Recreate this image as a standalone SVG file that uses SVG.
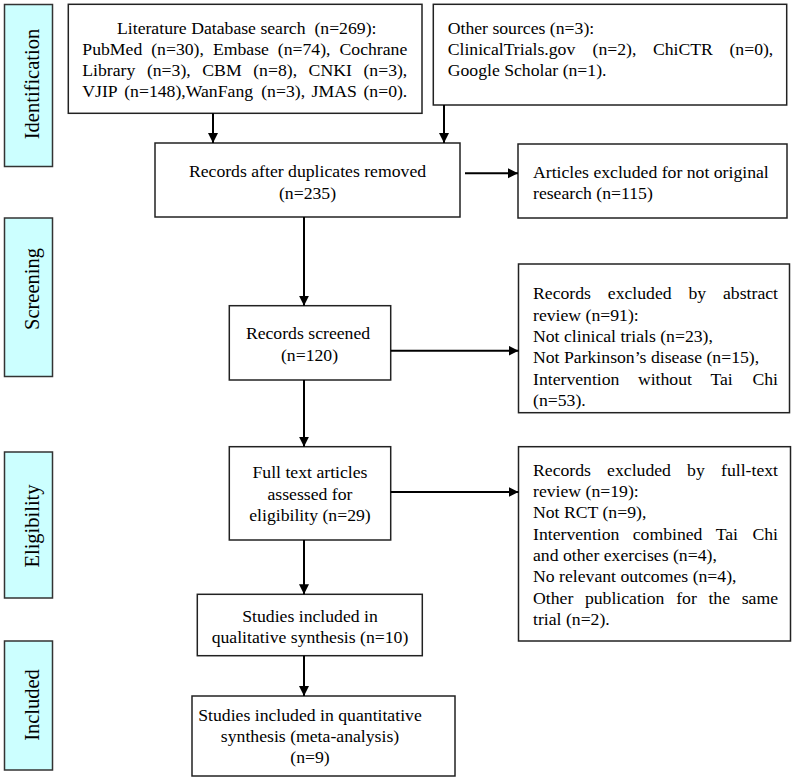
<svg xmlns="http://www.w3.org/2000/svg" width="797" height="781" viewBox="0 0 797 781">
<style>
text { font-family: "Liberation Serif", "Times New Roman", serif; font-size: 17.7px; fill: #000; }
.box { fill: #fff; stroke: #222; stroke-width: 1.5; }
.side { fill: #CCFFFF; stroke: #333; stroke-width: 1.5; }
.side-t { font-size: 20.5px; text-anchor: middle; }
.c { text-anchor: middle; }
.e { text-anchor: end; }
.conn { stroke: #000; stroke-width: 2; fill: none; marker-end: url(#ah); }
</style>
<defs>
<marker id="ah" markerUnits="userSpaceOnUse" markerWidth="11" markerHeight="11" refX="10" refY="5" orient="auto">
<path d="M0,0 L10,5 L0,10 z" fill="#000"/>
</marker>
</defs>
<rect width="797" height="781" fill="#fff"/>

<g id="stage-identification">
<rect class="side" x="4.5" y="4.5" width="48" height="162"/>
<text class="side-t" transform="translate(39,84) rotate(-90)">Identification</text>
</g>
<g id="stage-screening">
<rect class="side" x="4.5" y="218" width="48" height="158.5"/>
<text class="side-t" transform="translate(39,289) rotate(-90)">Screening</text>
</g>
<g id="stage-eligibility">
<rect class="side" x="4.5" y="452" width="48" height="146"/>
<text class="side-t" transform="translate(39,526) rotate(-90)">Eligibility</text>
</g>
<g id="stage-included">
<rect class="side" x="4.5" y="641" width="48" height="129"/>
<text class="side-t" transform="translate(39,705) rotate(-90)">Included</text>
</g>

<g id="database-search">
<rect class="box" x="68.3" y="4.3" width="353.7" height="109"/>
<text x="117" y="33.5" xml:space="preserve">Literature Database search  (n=269):</text>
<text y="54.8"><tspan x="82.3">PubMed</tspan><tspan x="151.2">(n=30),</tspan><tspan x="212.9">Embase</tspan><tspan x="277.8">(n=74),</tspan><tspan x="407.3" class="e">Cochrane</tspan></text>
<text y="76.1"><tspan x="82.3">Library</tspan><tspan x="146.9">(n=3),</tspan><tspan x="202.3">CBM</tspan><tspan x="253.2">(n=8),</tspan><tspan x="308.6">CNKI</tspan><tspan x="407.3" class="e">(n=3),</tspan></text>
<text y="97.4"><tspan x="82.3">VJIP</tspan><tspan x="124.2">(n=148),WanFang</tspan><tspan x="261.2">(n=3),</tspan><tspan x="311.6">JMAS</tspan><tspan x="407.3" class="e">(n=0).</tspan></text>
</g>

<g id="other-sources">
<rect class="box" x="433.3" y="4.3" width="353.4" height="100.7"/>
<text x="447.7" y="33.5">Other sources (n=3):</text>
<text y="54.8"><tspan x="447.7">ClinicalTrials.gov</tspan><tspan x="592.5">(n=2),</tspan><tspan x="652.9">ChiCTR</tspan><tspan x="773.3" class="e">(n=0),</tspan></text>
<text x="447.7" y="76.1">Google Scholar (n=1).</text>
</g>

<g id="duplicates-removed">
<rect class="box" x="155" y="143" width="305" height="74"/>
<text class="c" x="307.5" y="177.3">Records after duplicates removed</text>
<text class="c" x="307.5" y="198.6">(n=235)</text>
</g>

<g id="excluded-not-original">
<rect class="box" x="518" y="144" width="269" height="74"/>
<text x="533" y="177.8">Articles excluded for not original</text>
<text x="533" y="199.1">research (n=115)</text>
</g>

<g id="records-screened">
<rect class="box" x="229.3" y="305.7" width="161.4" height="74.3"/>
<text class="c" x="308" y="339.3">Records screened</text>
<text class="c" x="309.5" y="360.7">(n=120)</text>
</g>

<g id="excluded-abstract">
<rect class="box" x="518.5" y="264" width="271" height="148.7"/>
<text y="299.3"><tspan x="533">Records</tspan><tspan x="607.8">excluded</tspan><tspan x="688.5">by</tspan><tspan x="778" class="e">abstract</tspan></text>
<text x="533" y="320.6">review (n=91):</text>
<text x="533" y="341.9">Not clinical trials (n=23),</text>
<text x="533" y="363.2">Not Parkinson’s disease (n=15),</text>
<text y="384.5"><tspan x="533">Intervention</tspan><tspan x="637.9">without</tspan><tspan x="710.4">Tai</tspan><tspan x="778" class="e">Chi</tspan></text>
<text x="533" y="405.8">(n=53).</text>
</g>

<g id="full-text-assessed">
<rect class="box" x="229.3" y="446.7" width="161.4" height="93.3"/>
<text class="c" x="310" y="478.2">Full text articles</text>
<text class="c" x="310" y="499.5">assessed for</text>
<text class="c" x="310" y="520.8">eligibility (n=29)</text>
</g>

<g id="excluded-full-text">
<rect class="box" x="518.5" y="446.7" width="272" height="194.3"/>
<text y="475.7"><tspan x="533">Records</tspan><tspan x="607.1">excluded</tspan><tspan x="687.1">by</tspan><tspan x="778" class="e">full-text</tspan></text>
<text x="533" y="497">review (n=19):</text>
<text x="533" y="518.3">Not RCT (n=9),</text>
<text y="539.6"><tspan x="533">Intervention</tspan><tspan x="632.7">combined</tspan><tspan x="715.7">Tai</tspan><tspan x="778" class="e">Chi</tspan></text>
<text x="533" y="560.9">and other exercises (n=4),</text>
<text x="533" y="582.2">No relevant outcomes (n=4),</text>
<text y="603.5"><tspan x="533">Other</tspan><tspan x="584.9">publication</tspan><tspan x="676.2">for</tspan><tspan x="708.4">the</tspan><tspan x="778" class="e">same</tspan></text>
<text x="533" y="624.8">trial (n=2).</text>
</g>

<g id="qualitative-synthesis">
<rect class="box" x="197.3" y="594.3" width="225" height="61.4"/>
<text class="c" x="310" y="621.5">Studies included in</text>
<text class="c" x="310" y="642.8">qualitative synthesis (n=10)</text>
</g>

<g id="quantitative-synthesis">
<rect class="box" x="192" y="696" width="263" height="80"/>
<text class="c" x="310" y="720.7">Studies included in quantitative</text>
<text class="c" x="310" y="742">synthesis (meta-analysis)</text>
<text class="c" x="310" y="763.3">(n=9)</text>
</g>

<g id="connectors">
<line class="conn" x1="213" y1="113.3" x2="213" y2="143"/>
<line class="conn" x1="444" y1="105" x2="444" y2="143"/>
<line class="conn" x1="304" y1="217" x2="304" y2="305.7"/>
<line class="conn" x1="465" y1="173.3" x2="518" y2="173.3"/>
<line class="conn" x1="390.7" y1="350.7" x2="518.5" y2="350.7"/>
<line class="conn" x1="304" y1="380" x2="304" y2="446.7"/>
<line class="conn" x1="390.7" y1="492" x2="518.5" y2="492"/>
<line class="conn" x1="304" y1="540" x2="304" y2="594.3"/>
<line class="conn" x1="304" y1="655.7" x2="304" y2="696"/>
</g>
</svg>
